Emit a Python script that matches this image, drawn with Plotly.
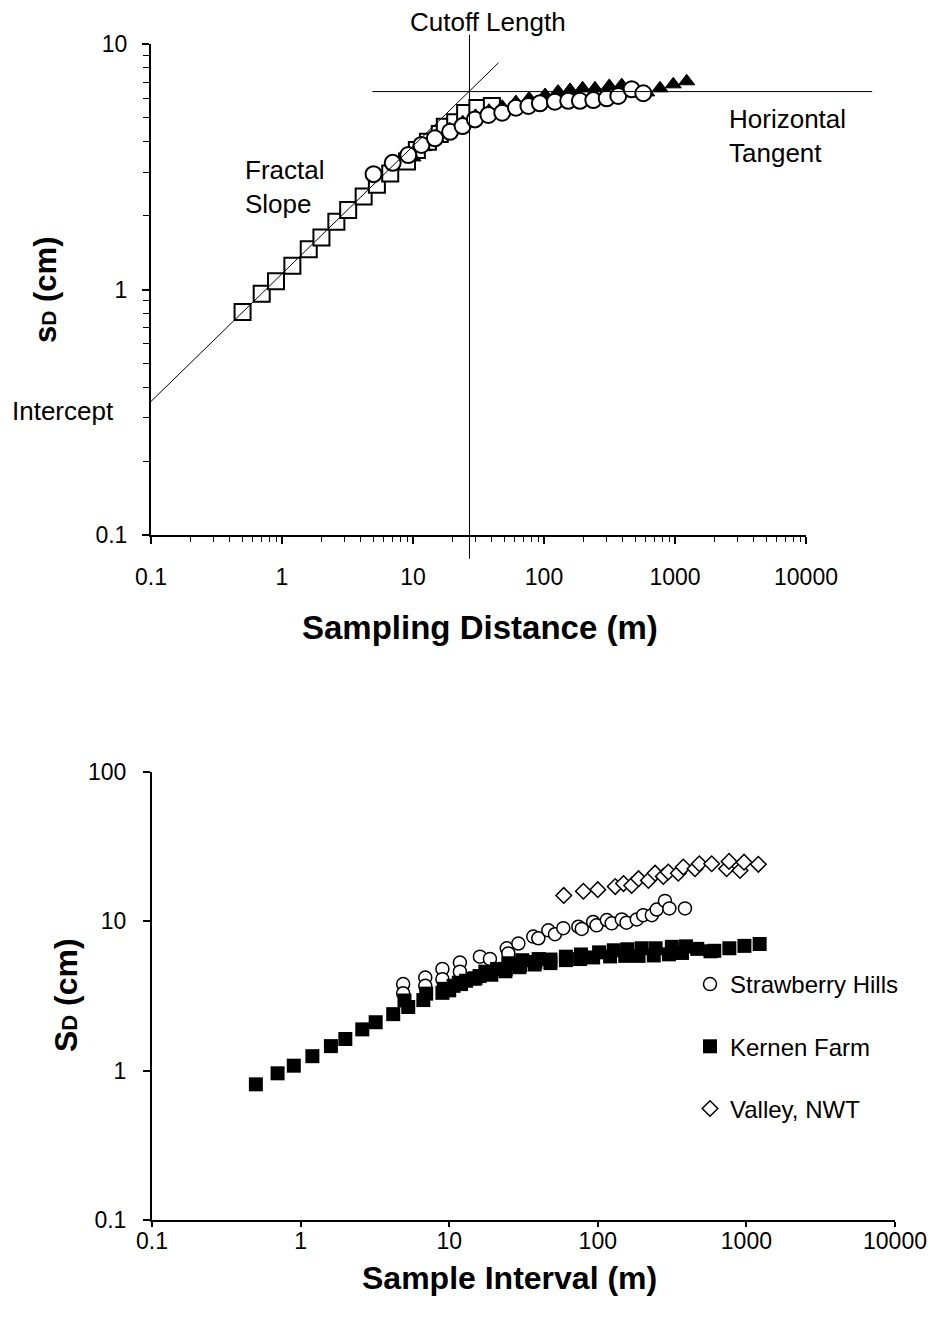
import math
import plotly.graph_objects as go

# ---------------- data ----------------
# Top chart: Kernen Farm, three sampling sets
fine_x = [0.5, 0.7, 0.9, 1.2, 1.6, 2.0, 2.6, 3.2, 4.2, 5.3, 6.7, 9.0, 10.7, 13, 16, 17.5, 21, 25, 31, 40]
fine_y = [0.81, 0.96, 1.08, 1.25, 1.46, 1.63, 1.89, 2.11, 2.39, 2.67, 2.97, 3.32, 3.70, 4.0, 4.3, 4.6, 4.8, 5.24, 5.49, 5.59]

mid_x = [5.0, 7.0, 9.2, 11.6, 14.7, 19.2, 23.9, 29.7, 37.6, 48, 61, 76, 93, 121, 153, 188, 238, 301, 369, 467, 573]
mid_y = [2.95, 3.28, 3.53, 3.88, 4.13, 4.39, 4.63, 4.93, 5.14, 5.25, 5.5, 5.59, 5.73, 5.82, 5.87, 5.87, 5.91, 6.01, 6.14, 6.54, 6.3]

coarse_x = [10, 12, 15, 19, 24, 30, 38, 48, 61, 77, 102, 128, 158, 197, 245, 315, 392, 608, 768, 970, 1228]
coarse_y = [3.45, 3.8, 4.15, 4.5, 4.8, 5.1, 5.35, 5.55, 5.8, 6.0, 6.2, 6.4, 6.5, 6.6, 6.6, 6.75, 6.8, 6.35, 6.6, 6.85, 7.05]

# Reference lines of the top chart
intercept = 0.35        # s_D at 0.1 m
fractal_slope = 0.52
slope_end_x = 45
cutoff_x = 27
cutoff_y_span = [0.08, 10.9]
tangent_y = 6.4
tangent_x_span = [4.9, 32000]

# Bottom chart
straw_x = [4.9, 4.9, 6.9, 6.9, 9.0, 9.0, 11.8, 11.8, 16.1, 18.8, 24.4, 25, 29.2, 36.8, 39.8, 46.5, 51.5,
           58.6, 74, 78, 93, 98, 115, 124, 145, 156, 183, 202, 231, 249, 283, 303, 386]
straw_y = [3.8, 3.3, 4.2, 3.7, 4.8, 4.1, 5.3, 4.6, 5.8, 5.6, 6.6, 6.1, 7.1, 7.9, 7.7, 8.7, 8.2,
           9.0, 9.2, 8.9, 9.9, 9.4, 10.2, 9.7, 10.3, 9.8, 10.3, 11.0, 11.0, 12.0, 13.7, 12.2, 12.2]

kernen_x = fine_x + mid_x + coarse_x
kernen_y = fine_y + mid_y + coarse_y

valley_x = [59, 80, 100, 131, 149, 169, 188, 219, 243, 276, 298, 348, 376, 451, 482, 584, 736, 764, 906, 964, 1203]
valley_y = [14.9, 15.9, 16.3, 17.1, 17.9, 17.4, 19.3, 18.8, 21.0, 20.0, 21.4, 21.0, 23.1, 22.5, 24.3, 24.3,
            22.5, 25.2, 21.9, 24.9, 24.1]

x_tickvals = [0.1, 1, 10, 100, 1000, 10000]
x_ticktext = ["0.1", "1", "10", "100", "1000", "10000"]
top_y_tickvals = [0.1, 1, 10]
top_y_ticktext = ["0.1", "1", "10"]
bot_y_tickvals = [0.1, 1, 10, 100]
bot_y_ticktext = ["0.1", "1", "10", "100"]

# ---------------- layout geometry ----------------
W, H = 935, 1325
FONT = "Liberation Sans, Arial, sans-serif"

def px(xp):
    return xp / W

def py(yp):
    return 1 - yp / H

TOP_XD = [px(151), px(806)]
TOP_YD = [py(535), py(44)]
BOT_XD = [px(152), px(895)]
BOT_YD = [py(1220), py(772)]
TOP_XR = [-1, 4]
TOP_YR = [-1, 1]

def top_xp(v):
    return TOP_XD[0] + (math.log10(v) - TOP_XR[0]) / (TOP_XR[1] - TOP_XR[0]) * (TOP_XD[1] - TOP_XD[0])

def top_yp(v):
    return TOP_YD[0] + (math.log10(v) - TOP_YR[0]) / (TOP_YR[1] - TOP_YR[0]) * (TOP_YD[1] - TOP_YD[0])

minor_vals = [m * 10 ** k for k in range(-1, 4) for m in range(2, 10)]

fig = go.Figure()

# top chart traces
fig.add_trace(go.Scatter(x=fine_x, y=fine_y, mode="markers", xaxis="x", yaxis="y", showlegend=False,
                         marker=dict(symbol="square", size=16, color="white",
                                     line=dict(color="black", width=2))))
fig.add_trace(go.Scatter(x=coarse_x, y=coarse_y, mode="markers", xaxis="x", yaxis="y", showlegend=False,
                         marker=dict(symbol="triangle-up", size=14, color="black",
                                     line=dict(color="black", width=1))))
fig.add_trace(go.Scatter(x=mid_x, y=mid_y, mode="markers", xaxis="x", yaxis="y", showlegend=False,
                         marker=dict(symbol="circle", size=16, color="white",
                                     line=dict(color="black", width=2))))

# bottom chart traces
fig.add_trace(go.Scatter(x=straw_x, y=straw_y, mode="markers", xaxis="x2", yaxis="y2",
                         name="Strawberry Hills", legendgroup="a",
                         marker=dict(symbol="circle", size=13, color="white",
                                     line=dict(color="black", width=1.5))))
fig.add_trace(go.Scatter(x=kernen_x, y=kernen_y, mode="markers", xaxis="x2", yaxis="y2",
                         name="Kernen Farm", legendgroup="b",
                         marker=dict(symbol="square", size=14, color="black",
                                     line=dict(color="black", width=0))))
fig.add_trace(go.Scatter(x=valley_x, y=valley_y, mode="markers", xaxis="x2", yaxis="y2",
                         name="Valley, NWT", legendgroup="c",
                         marker=dict(symbol="diamond", size=12, color="white",
                                     line=dict(color="black", width=1.5))))

# reference lines (extend beyond the plot area, so drawn in paper coordinates)
slope_end_y = intercept * (slope_end_x / 0.1) ** fractal_slope
shapes = [
    dict(type="line", xref="paper", yref="paper",
         x0=top_xp(0.1), y0=top_yp(intercept), x1=top_xp(slope_end_x), y1=top_yp(slope_end_y),
         line=dict(color="black", width=1)),
    dict(type="line", xref="paper", yref="paper",
         x0=top_xp(cutoff_x), y0=top_yp(cutoff_y_span[0]), x1=top_xp(cutoff_x), y1=top_yp(cutoff_y_span[1]),
         line=dict(color="black", width=1)),
    dict(type="line", xref="paper", yref="paper",
         x0=top_xp(tangent_x_span[0]), y0=top_yp(tangent_y), x1=top_xp(tangent_x_span[1]), y1=top_yp(tangent_y),
         line=dict(color="black", width=1)),
]

ann_font = dict(family=FONT, size=26, color="black")
annotations = [
    dict(text="Cutoff Length", x=px(488), y=py(22), xref="paper", yref="paper",
         xanchor="center", yanchor="middle", showarrow=False, font=ann_font),
    dict(text="Fractal<br>Slope", x=px(243), y=py(187), xref="paper", yref="paper",
         xanchor="left", yanchor="middle", align="left", showarrow=False, font=ann_font),
    dict(text="Horizontal<br>Tangent", x=px(727), y=py(136), xref="paper", yref="paper",
         xanchor="left", yanchor="middle", align="left", showarrow=False, font=ann_font),
    dict(text="Intercept", x=px(10), y=py(411), xref="paper", yref="paper",
         xanchor="left", yanchor="middle", showarrow=False, font=ann_font),
    # axis titles
    dict(text="<b>Sampling Distance (m)</b>", x=px(480), y=py(628), xref="paper", yref="paper",
         xanchor="center", yanchor="middle", showarrow=False, font=dict(family=FONT, size=33, color="black")),
    dict(text="<b>s<span style='font-size:21px'>D</span> (cm)</b>", x=px(46), y=py(290), xref="paper", yref="paper",
         xanchor="center", yanchor="middle", textangle=-90, showarrow=False,
         font=dict(family=FONT, size=31, color="black")),
    dict(text="<b>Sample Interval (m)</b>", x=px(510), y=py(1278), xref="paper", yref="paper",
         xanchor="center", yanchor="middle", showarrow=False, font=dict(family=FONT, size=32, color="black")),
    dict(text="<b>S<span style='font-size:22px'>D</span> (cm)</b>", x=px(66), y=py(995), xref="paper", yref="paper",
         xanchor="center", yanchor="middle", textangle=-90, showarrow=False,
         font=dict(family=FONT, size=32, color="black")),
]

axis_common = dict(type="log", showgrid=False, zeroline=False, showline=True, linecolor="black", linewidth=2,
                   ticks="outside", tickcolor="black", tickwidth=1.5, ticklen=7, automargin=False,
                   tickfont=dict(family=FONT, size=23, color="black"))

fig.update_layout(
    width=W, height=H, margin=dict(l=0, r=0, t=0, b=0, autoexpand=False),
    paper_bgcolor="white", plot_bgcolor="white",
    font=dict(family=FONT, color="black"),
    xaxis=dict(axis_common, domain=TOP_XD, range=TOP_XR, anchor="y",
               tickvals=x_tickvals, ticktext=x_ticktext, ticklabelstandoff=13,
               minor=dict(tickvals=minor_vals, ticks="outside", ticklen=5, tickwidth=1, tickcolor="black")),
    yaxis=dict(axis_common, domain=TOP_YD, range=TOP_YR, anchor="x",
               tickvals=top_y_tickvals, ticktext=top_y_ticktext, ticklabelstandoff=10,
               minor=dict(tickvals=minor_vals, ticks="outside", ticklen=6, tickwidth=1, tickcolor="black")),
    xaxis2=dict(axis_common, domain=BOT_XD, range=[-1, 4], anchor="y2",
                tickvals=x_tickvals, ticktext=x_ticktext, ticklen=5, ticklabelstandoff=-6),
    yaxis2=dict(axis_common, domain=BOT_YD, range=[-1, 2], anchor="x2",
                tickvals=bot_y_tickvals, ticktext=bot_y_ticktext, ticklabelstandoff=12),
    legend=dict(x=px(690), y=py(962), xanchor="left", yanchor="top", bgcolor="rgba(0,0,0,0)",
                font=dict(family=FONT, size=24, color="black"), tracegroupgap=28, itemsizing="trace"),
    shapes=shapes,
    annotations=annotations,
)

fig.write_html("out.html")
